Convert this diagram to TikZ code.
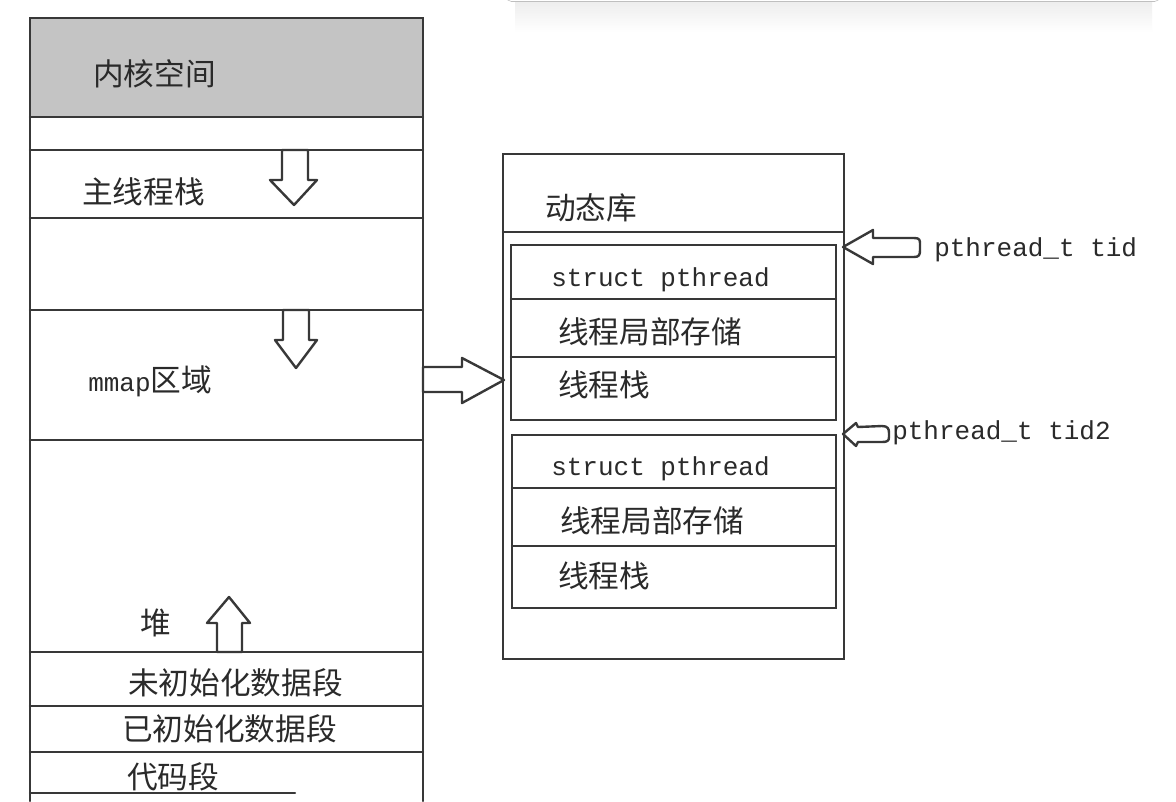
\documentclass[tikz,border=0pt]{standalone}
\usepackage{fontspec}
\setmainfont{Liberation Mono}
\newfontfamily\cjkf{Noto Sans CJK SC}
\newfontfamily\monof{Liberation Mono}
\definecolor{linec}{HTML}{383838}
\definecolor{txtc}{HTML}{2A2A2A}
\definecolor{kerngray}{HTML}{C4C4C4}
\begin{document}
\begin{tikzpicture}[x=0.75pt,y=-0.75pt,
  ln/.style={draw=linec,line width=1.8pt,line cap=round},
  cjk/.style={font=\cjkf\fontsize{23pt}{25pt}\selectfont,text=txtc,anchor=west,inner sep=0pt},
  mono/.style={font=\monof\fontsize{19.5pt}{22pt}\selectfont,text=txtc,anchor=west,inner sep=0pt},
  harrow/.style={draw=linec,fill=white,line width=1.8pt,line join=round}]
\useasboundingbox (0,0) rectangle (1176,801);
\fill[white] (0,0) rectangle (1176,801);

% faint UI card at the top edge
\shade[top color=black!7,bottom color=white] (515,1) rectangle (1152,32);
\draw[black!25,fill=white,rounded corners=4pt] (506,-20) -- (506,1.5) -- (1160,1.5) -- (1160,-20);

% ---------- left box: process address space ----------
\fill[kerngray] (30,18) rectangle (423,117);
\draw[ln] (30,801) -- (30,18) -- (423,18) -- (423,801);
\foreach \yy in {117,150,218,310,440,652,706,752}{
  \draw[ln] (30,\yy) -- (423,\yy);
}
\draw[ln] (30,793) -- (295,793);

\node[cjk] (kern) at (93,74) {内核空间};
\node[cjk] (mstack) at (82,192) {主线程栈};
\node[cjk] (mmap) at (88,381) {{\monof\fontsize{19.5pt}{22pt}\selectfont mmap}区域};
\node[cjk] (heap) at (140,623) {堆};
\node[cjk] (bss) at (128,683) {未初始化数据段};
\node[cjk] (data) at (122,729) {已初始化数据段};
\node[cjk] (text) at (127,777) {代码段};

% growth arrows
\draw[harrow] (282,150) -- (282,180) -- (270,180) -- (294,205) -- (317,180) -- (308,180) -- (308,150) -- cycle;
\draw[harrow] (283,310) -- (283,340) -- (275,340) -- (296,368) -- (317,340) -- (309,340) -- (309,310) -- cycle;
\draw[harrow] (217,652) -- (217,623) -- (207,623) -- (229,597) -- (250,623) -- (242,623) -- (242,652) -- cycle;

% ---------- right box: dynamic library ----------
\draw[ln] (503,154) rectangle (844,659);
\draw[ln] (503,232) -- (844,232);
\node[cjk] (dyn) at (545,208) {动态库};

% thread 1
\draw[ln] (511,245) rectangle (836,420);
\draw[ln] (511,299) -- (836,299);
\draw[ln] (511,357) -- (836,357);
\node[mono] (sp1) at (551,280) {struct pthread};
\node[cjk] (tls1) at (558,332) {线程局部存储};
\node[cjk] (ts1) at (558,385) {线程栈};

% thread 2
\draw[ln] (512,435) rectangle (836,608);
\draw[ln] (512,488) -- (836,488);
\draw[ln] (512,546) -- (836,546);
\node[mono] (sp2) at (551,469) {struct pthread};
\node[cjk] (tls2) at (560,521) {线程局部存储};
\node[cjk] (ts2) at (558,576) {线程栈};

% mmap -> thread stacks
\draw[harrow] (423,367) -- (462,367) -- (462,358) -- (504,380) -- (462,403) -- (462,392) -- (423,392) -- cycle;

% labels and pointers
\node[mono] (tid1) at (934,250) {pthread\_t tid};
\node[mono] (tid2) at (892,433) {pthread\_t tid2};
\draw[harrow] (843,247) -- (873,230) -- (873,238) -- (914,238)
  .. controls (920,238) and (920,240) .. (920,245) -- (920,250)
  .. controls (920,255) and (919,257) .. (914,257) -- (873,257) -- (873,264) -- cycle;
\draw[harrow] (843,434) -- (856,423) -- (858,427) -- (882,426)
  .. controls (888,426) and (889,429) .. (889,433) -- (889,437)
  .. controls (889,441) and (887,442) .. (882,442) -- (858,442) -- (856,446) -- cycle;
\end{tikzpicture}
\end{document}
